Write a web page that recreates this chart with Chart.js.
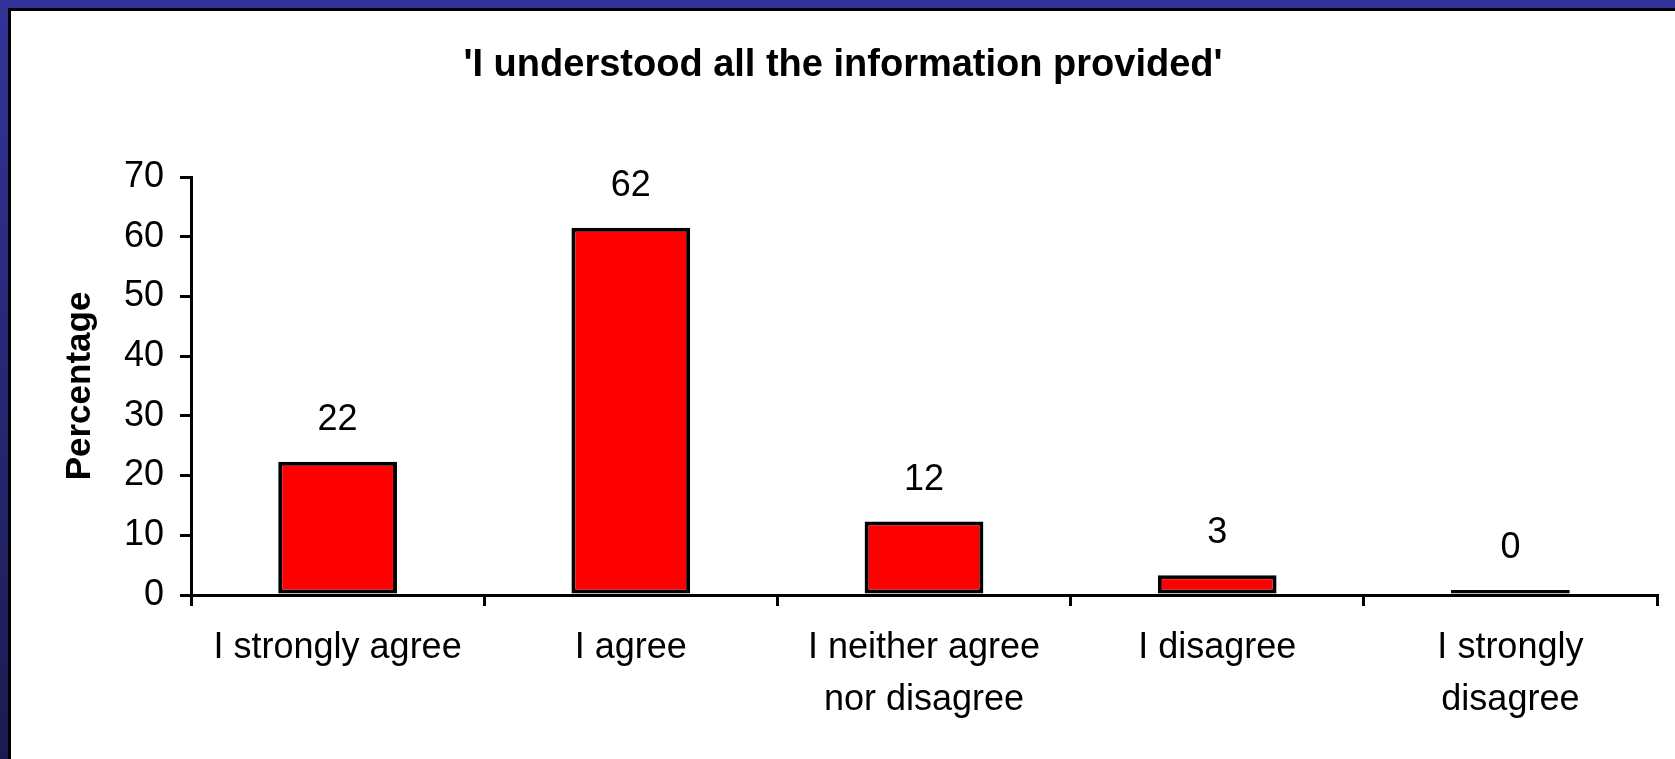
<!DOCTYPE html>
<html>
<head>
<meta charset="utf-8">
<script src="https://cdn.jsdelivr.net/npm/chart.js"></script>
<style>
  html, body { margin: 0; padding: 0; }
  /* dark blue frame on top and left, like the slide it came from */
  .frame {
    position: relative;
    width: 1675px;
    height: 759px;
    background: linear-gradient(to bottom, #333399 0%, #1b1b52 100%);
    overflow: hidden;
  }
  .sheet {
    position: absolute;
    left: 8px;
    top: 8px;
    right: 0;
    bottom: 0;
    background: #ffffff;
    border-top: 3px solid #000000;
    border-left: 3px solid #000000;
  }
  .chart-box {
    position: absolute;
    left: 0;
    top: 0;
    width: 1664px;
    height: 748px;
  }
</style>
</head>
<body>
<div class="frame">
  <div class="sheet">
    <div class="chart-box"><canvas id="surveyChart"></canvas></div>
  </div>
</div>
<script>
// Du lieu doc tu hinh
const categories = [
    'I strongly agree',
    'I agree',
    ['I neither agree', 'nor disagree'],
    'I disagree',
    ['I strongly', 'disagree']
];
const percentages = [22.3, 61.5, 12.3, 3.3, 0.45];
const yTicks = [0, 10, 20, 30, 40, 50, 60, 70];

const FONT = '"Liberation Sans", Arial, Helvetica, sans-serif';

// ghi so phan tram phia tren moi cot
const valueLabels = {
    id: 'valueLabels',
    afterDatasetsDraw(chart) {
        const ctx = chart.ctx;
        const meta = chart.getDatasetMeta(0);
        ctx.save();
        ctx.font = '36px ' + FONT;
        ctx.fillStyle = '#000000';
        ctx.textAlign = 'center';
        ctx.textBaseline = 'alphabetic';
        meta.data.forEach((bar, i) => {
            ctx.fillText(String(Math.round(percentages[i])), bar.x, bar.y - 32);
        });
        ctx.restore();
    }
};

const ctx = document.getElementById('surveyChart').getContext('2d');
new Chart(ctx, {
    type: 'bar',
    data: {
        labels: categories,
        datasets: [{
            data: percentages,
            backgroundColor: '#ff0000',
            borderColor: '#000000',
            borderWidth: 4,
            borderSkipped: false,
            minBarLength: 5, // cot 0% van thay duoc mot vach den
            categoryPercentage: 1,
            barPercentage: 0.405
        }]
    },
    options: {
        responsive: true,
        maintainAspectRatio: false,
        animation: false,
        devicePixelRatio: 1,
        layout: { padding: { left: 18, right: 18, top: 0, bottom: 0 } },
        plugins: {
            legend: { display: false },
            tooltip: { enabled: false },
            title: {
                display: true,
                text: "'I understood all the information provided'",
                color: '#000000',
                font: { family: FONT, size: 38, weight: 'bold', lineHeight: 1.2 },
                padding: { top: 32, bottom: 88.4 }
            }
        },
        scales: {
            x: {
                grid: {
                    display: true,
                    drawOnChartArea: false,
                    drawTicks: true,
                    tickLength: 11,
                    color: '#000000',
                    lineWidth: 3,
                    offset: true
                },
                border: { display: true, color: '#000000', width: 3 },
                ticks: {
                    color: '#000000',
                    font: { family: FONT, size: 36, lineHeight: 1.42 },
                    padding: 17,
                    maxRotation: 0,
                    minRotation: 0,
                    autoSkip: false
                },
                afterFit(scale) { scale.height = 164; }
            },
            y: {
                min: 0,
                max: 70,
                afterBuildTicks(scale) {
                    scale.ticks = yTicks.map(v => ({ value: v }));
                },
                grid: {
                    display: true,
                    drawOnChartArea: false,
                    drawTicks: true,
                    tickLength: 11,
                    color: '#000000',
                    lineWidth: 3
                },
                border: { display: true, color: '#000000', width: 3 },
                ticks: {
                    color: '#000000',
                    font: { family: FONT, size: 36 },
                    padding: 16
                },
                title: {
                    display: true,
                    text: 'Percentage',
                    color: '#000000',
                    font: { family: FONT, size: 35, weight: 'bold', lineHeight: 1.2 },
                    padding: { top: 30, bottom: 0 }
                },
                afterFit(scale) { scale.width = 162; }
            }
        }
    },
    plugins: [valueLabels]
});
</script>
</body>
</html>
